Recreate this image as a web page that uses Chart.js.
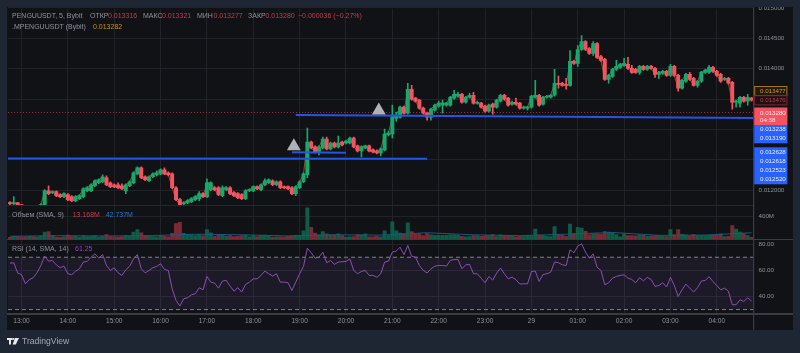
<!DOCTYPE html>
<html><head><meta charset="utf-8">
<style>html,body{margin:0;padding:0;background:#1e2633;overflow:hidden}canvas{display:block}</style>
<script src="https://cdn.jsdelivr.net/npm/chart.js@4"></script>
</head><body>
<canvas id="c" width="800" height="353"></canvas>
<script>
// prices are in millionths of USDT
const opens=[11798,11782,11798,11765,11716,11667,11700,11651,11683,11765,
11994,11962,11978,11929,11896,11929,11896,11831,11864,11896,
11994,11994,12076,12125,12141,12207,12125,12092,12092,12076,
11994,12076,12125,12272,12370,12223,12158,12223,12256,12272,
12338,12289,12272,12043,11847,11782,11798,11814,11847,11864,
11945,11896,12011,12043,12043,11913,12011,12043,11962,11945,
11929,11864,11994,11994,12060,12011,12092,12125,12158,12092,
12141,12060,12060,12043,11945,12043,12141,12256,12795,12714,
12632,12697,12844,12681,12779,12714,12795,12779,12779,12861,
12730,12648,12697,12730,12665,12648,12615,12665,12910,12926,
13188,13204,13368,13270,13662,13515,13482,13351,13270,13204,
13319,13384,13400,13400,13400,13515,13547,13580,13449,13531,
13564,13433,13433,13384,13302,13417,13368,13466,13564,13515,
13417,13449,13433,13351,13351,13368,13531,13564,13417,13531,
13531,13564,13760,13760,13744,13727,14120,14087,14316,14447,
14332,14250,14414,14201,14152,13825,13874,13989,14022,14054,
14071,14005,13989,13940,14038,13989,14038,14005,13907,13923,
13956,13891,14038,13891,13678,13793,13907,13842,13727,13793,
13940,13940,14022,13956,13907,13825,13842,13776,13449,13433,
13531,13466,13515];
const closes=[11782,11798,11765,11716,11667,11700,11651,11683,11765,11994,
11945,11978,11913,11896,11945,11847,11831,11896,11913,12027,
12043,12092,12158,12174,12223,12092,12060,12060,12043,12027,
12092,12141,12289,12370,12207,12174,12223,12272,12289,12338,
12272,12256,12043,11847,11765,11798,11831,11864,11896,11945,
11896,12125,12125,12011,11929,12043,12043,11945,11913,11880,
11864,11994,12011,12060,12027,12092,12158,12174,12092,12141,
12043,12043,12027,11945,12060,12141,12272,12795,12697,12632,
12714,12844,12681,12779,12714,12779,12746,12812,12861,12714,
12648,12714,12730,12648,12632,12615,12681,12926,12942,13204,
13237,13368,13270,13662,13498,13466,13351,13270,13204,13335,
13400,13433,13433,13433,13531,13580,13580,13449,13531,13564,
13433,13449,13368,13302,13400,13368,13482,13564,13498,13400,
13449,13417,13351,13368,13368,13547,13564,13400,13531,13547,
13564,13760,13744,13727,13727,14120,14087,14316,14447,14316,
14250,14414,14185,14136,13825,13891,13989,14038,14071,14087,
14005,13940,13940,14038,13989,14038,14005,13907,13940,13956,
13891,14038,13891,13678,13809,13907,13825,13727,13793,13940,
13972,14022,13956,13891,13793,13842,13760,13449,13466,13531,
13466,13531,13482];
const highs=[11814,11896,11798,11765,11733,11716,11716,11700,11782,12011,
12076,11994,11994,11945,11962,11945,11913,11913,11929,12043,
12060,12109,12174,12190,12256,12239,12141,12109,12125,12109,
12109,12158,12305,12387,12387,12239,12239,12289,12321,12354,
12370,12305,12289,12060,11864,11814,11847,11880,11913,11978,
11962,12190,12141,12060,12060,12076,12060,12060,11978,11962,
11945,12011,12027,12076,12076,12109,12190,12190,12174,12158,
12158,12076,12076,12060,12076,12158,12289,13024,12812,12730,
12730,12877,12877,12795,12795,12893,12812,12828,12877,12877,
12746,12730,12746,12746,12681,12665,12697,13008,12975,13400,
13286,13384,13384,13760,13727,13531,13498,13368,13286,13351,
13417,13466,13482,13449,13547,13646,13613,13597,13547,13597,
13613,13466,13449,13400,13417,13433,13498,13580,13580,13531,
13466,13515,13449,13384,13384,13564,13809,13580,13547,13564,
13580,13989,13880,13776,13842,14299,14136,14381,14545,14463,
14349,14447,14430,14218,14169,13907,14005,14136,14087,14169,
14185,14054,14005,14054,14054,14054,14054,14022,13956,13972,
13972,14071,14054,13907,13825,13923,13940,13858,13809,13956,
13989,14054,14038,13972,13923,13858,13858,13793,13482,13547,
13547,13580,13531];
const lows=[11765,11765,11749,11700,11651,11651,11635,11635,11667,11749,
11929,11945,11896,11880,11880,11831,11814,11814,11847,11880,
11978,11978,12060,12109,12125,12076,12043,12043,12027,12011,
11945,12060,12109,12256,12190,12158,12141,12207,12239,12256,
12256,12239,12027,11831,11749,11765,11782,11798,11831,11831,
11880,11880,11994,11994,11913,11896,11994,11929,11896,11864,
11847,11847,11978,11978,12011,11994,12076,12109,12076,12076,
12027,12027,12011,11929,11913,12027,12125,12207,12681,12615,
12583,12681,12665,12665,12697,12697,12730,12763,12763,12697,
12632,12550,12681,12632,12615,12599,12566,12648,12893,12861,
13139,13188,13253,13253,13482,13449,13335,13253,13155,13155,
13302,13368,13270,13384,13384,13498,13531,13433,13433,13515,
13417,13417,13351,13286,13286,13253,13351,13449,13482,13384,
13400,13400,13335,13335,13319,13351,13515,13384,13400,13515,
13515,13547,13678,13711,13662,13711,14071,14038,14299,14299,
14234,14218,14169,14120,13809,13760,13858,13972,14005,14038,
13989,13923,13923,13907,13972,13972,13989,13858,13842,13907,
13874,13874,13874,13629,13662,13776,13809,13711,13695,13776,
13923,13923,13940,13874,13776,13809,13744,13335,13368,13368,
13449,13400,13466];
// volume, in millions
const volumes=[40,60,55,45,50,60,55,45,60,130,
140,70,45,40,50,80,55,60,45,70,
55,60,70,45,60,90,55,50,45,55,
70,60,130,175,120,70,60,55,50,70,
60,50,110,280,300,110,90,80,70,90,
65,175,120,60,90,90,60,70,55,60,
70,80,50,70,55,70,80,60,45,50,
50,45,60,65,75,70,155,550,215,115,
85,140,100,85,85,100,70,45,50,55,
90,80,100,50,50,60,50,155,70,310,
155,115,100,290,140,95,100,70,105,85,
75,75,75,75,85,85,75,60,50,55,
70,70,60,70,70,90,55,85,70,70,
60,50,60,55,70,60,185,80,70,60,
55,225,80,75,60,270,100,215,200,145,
85,100,100,95,140,130,120,90,50,100,
70,70,65,85,75,60,65,65,70,60,
55,175,85,175,95,85,65,90,70,70,
70,75,75,75,100,55,60,245,185,130,
100,70,40];
const rsi=[65.5,65.8,57.9,56.8,49.7,52.8,54.3,58.1,63.7,70.8,
67,67.5,64.2,62,63.2,57.4,56.6,59.4,61.2,66.3,
66.8,70,72.6,69.3,72.1,63.7,59.9,61.9,58.1,56.1,
60.4,63.2,68.8,72.1,61.2,58.1,59.9,61.9,63,65,
60.7,59.9,45.9,37,32.7,38.3,39,41.3,42.1,46.7,
45.1,55.3,51,50.2,46.4,51.8,52.3,47.9,44.1,46.7,
43.4,49.2,51,53.5,53.5,56.1,59.4,57.4,55.6,57.4,
51,51,50.5,44.6,51,57.4,63,76.9,73.4,69.3,
70,73.9,65.8,67.5,64.5,66.3,66.5,66.8,68.8,59.9,
57.4,59.1,59.9,56.1,56.1,54.6,57.4,66.3,67,73.9,
74.7,77.7,71.9,79,70.8,70,63.7,59.9,57.9,61.2,
63.2,63.7,63.7,63.2,67.5,68.3,68.3,61.2,64.2,64.5,
57.4,57.4,54,50.5,55.3,52.5,57.9,61.7,57.4,53.5,
54.8,52.8,49.5,49.7,49.7,59.1,59.4,51.5,56.8,57.4,
58.6,66.3,65.8,64.2,63.7,75.7,73.4,78.5,80.3,73.9,
69.3,72.6,62.4,59.9,49,50.5,54,55.3,56.1,56.6,
54,53,50.5,54.3,52,54.6,53,47.7,48.4,50.5,
47.2,54.6,48.4,40,45.1,49.5,46.4,43.4,46.7,51.8,
52.3,55.1,51.5,48.4,45.1,46.4,44.1,33.7,33.7,37.5,
36.2,39,36.5];
const smaIndex=[0,12,24,36,48,60,72,84,96,108,120,132,144,156,168,180,192];
const smaValues=[60,70,65,70,95,85,65,85,80,120,85,70,95,125,75,80,120];
const timeIndex=[3,15,27,39,51,63,75,87,99,111,123,135,147,159,171,183];
const timeLabels=["13:00","14:00","15:00","16:00","17:00","18:00","19:00","20:00","21:00","22:00","23:00","29","01:00","02:00","03:00","04:00"];
const priceTicks=[15000,14500,14000,13500,13000,12500,12000];
const volumeTicks=[400];
const rsiTicks=[80,60,40];
const lastPrice=13280;
const trendUpper=[[74,13238],[192.6,13190]];
const trendLower=[[-0.5,12523],[108,12520]];
const trendShort=[[73,12628],[87,12618]];
const triangles=[[73.5,12725],[95.5,13314]];

const GREEN='#17a86d',RED='#f7525f',VGREEN='#0e5c46',VRED='#7a2a35';
const idx=opens.map((_,i)=>i);
const up=idx.map(i=>closes[i]>=opens[i]);
const candleColor=up.map(u=>u?GREEN:RED);
const volColor=up.map(u=>u?VGREEN:VRED);
const pts=a=>a.map(p=>({x:p[0],y:p[1]}));
const SANS='"Liberation Sans",Arial,sans-serif';

function yAxis(min,max,weight,vals,fmt){return {
  type:'linear',position:'right',stack:'panes',stackWeight:weight,min,max,
  border:{display:false},grid:{color:'#212328',drawTicks:false,lineWidth:1},
  afterBuildTicks:s=>{s.ticks=vals.map(v=>({value:v}));},
  afterFit:s=>{s.width=39.5;},
  ticks:{autoSkip:false,color:'#8f929a',font:{family:SANS,size:6.2},padding:5,callback:fmt}
};}

const bg={id:'bg',
 beforeDraw(ch){const c=ch.ctx;
  c.fillStyle='#1e2633';c.fillRect(0,0,800,353);
  c.fillStyle='#111216';c.fillRect(7,7,786,323);},
 beforeDatasetsDraw(ch){const c=ch.ctx,s=ch.scales.rsi,a=ch.chartArea;
  const t=s.getPixelForValue(70),b=s.getPixelForValue(30);
  c.save();c.fillStyle='rgba(126,87,194,0.11)';c.fillRect(a.left,t,a.right-a.left,b-t);
  c.strokeStyle='#7f8188';c.lineWidth=1;c.setLineDash([4,3]);
  [t,b].forEach(y=>{c.beginPath();c.moveTo(a.left,y);c.lineTo(a.right,y);c.stroke();});
  c.restore();},
 afterDraw(ch){const c=ch.ctx;
  c.save();
  c.fillStyle='#1e2633';c.fillRect(0,0,800,7);
  // pane separators
  c.fillStyle='#25272d';c.fillRect(7,205,746.5,1);
  c.fillStyle='#3a3c42';c.fillRect(7,239,786,1);
  c.fillRect(7,313,786,2);
  c.fillRect(753,7,1.2,323);
  // legends
  c.textBaseline='middle';c.textAlign='left';
  const T=(s,x,y,col,sz)=>{c.font=(sz||7)+'px '+SANS;c.fillStyle=col;c.fillText(s,x,y);};
  const G='#8f929a',R='#c63c48';
  T('PENGUUSDT, 5, Bybit',12,16.5,G);
  T('ОТКР',90,16.5,G);T('0.013316',108,16.5,R);
  T('МАКС',143,16.5,G);T('0.013321',162,16.5,R);
  T('МИН',197,16.5,G);T('0.013277',213.5,16.5,R);
  T('ЗАКР',248,16.5,G);T('0.013280',265.5,16.5,R);T('−0.000036 (−0.27%)',298,16.5,R);
  T('.MPENGUUSDT (Bybit)',12,27,G);T('0.013282',93,27,'#c8901c');
  T('Объем (SMA, 9)',12,215,G);T('13.168M',72.7,215,R);T('42.737M',105.7,215,'#2a78c4');
  T('RSI (14, SMA, 14)',12,249,G);T('61.25',75,249,'#9047b5');
  // price tags
  const X=754.2,W=33.2,Tx=760;
  c.fillStyle='#221a0e';c.fillRect(X,86.5,W,9.2);c.strokeStyle='#a8741a';c.lineWidth=1;c.strokeRect(X+.5,86.5,W-1,9.2);
  T('0.013477',Tx,91.3,'#d39a25',6.2);
  c.fillStyle='#1c1114';c.fillRect(X,95.7,W,9.2);c.strokeStyle='#80262f';c.strokeRect(X+.5,95.7,W-1,9.2);
  T('0.013476',Tx,100.3,'#c83c48',6.2);
  c.fillStyle=RED;c.fillRect(X,107.5,W,17.5);
  T('0.013280',Tx,112.8,'#ffe8ea',6.2);T('04:38',Tx,120,'#ffe8ea',6.2);
  c.fillStyle='#2962ff';c.fillRect(X,125,W,18.3);c.fillRect(X,147.3,W,37);
  [['0.013238',129.3],['0.013190',138.3],['0.012628',152.3],['0.012618',161.3],['0.012523',170.3],['0.012520',179.7]]
   .forEach(a=>T(a[0],Tx,a[1],'#e6ecff',6.2));
  // footer
  T('TradingView',22,341.5,'#a4a8b0',8.6);
  c.fillStyle='#e8e8e8';
  c.fillRect(7,338,5.5,2);c.fillRect(9,338,2,6.5);
  c.beginPath();c.arc(13.4,339,1.1,0,7);c.fill();
  c.beginPath();c.moveTo(15,338);c.lineTo(19,338);c.lineTo(15.8,344.5);c.lineTo(12.6,344.5);c.fill();
  c.restore();}
};

new Chart(document.getElementById('c'),{
 type:'bar',
 plugins:[bg],
 data:{datasets:[
  {type:'line',label:'Mark price',yAxisID:'price',order:6,data:idx.map(i=>({x:i,y:closes[i]})),borderColor:'#7c5c1e',borderWidth:1,pointRadius:0,tension:0},
  {type:'line',label:'Last price',yAxisID:'price',order:7,data:[{x:-0.5,y:lastPrice},{x:192.5,y:lastPrice}],borderColor:'#9a2f3a',borderWidth:1,borderDash:[1,2],pointRadius:0},
  {label:'Wicks',yAxisID:'price',order:4,grouped:false,data:idx.map(i=>({x:i,y:[lows[i],highs[i]]})),backgroundColor:candleColor,barThickness:1},
  {label:'Bodies',yAxisID:'price',order:3,grouped:false,data:idx.map(i=>({x:i,y:[opens[i],closes[i]]})),backgroundColor:candleColor,barThickness:3.3},
  {type:'line',label:'Trend A',yAxisID:'price',order:2,data:pts(trendUpper),borderColor:'#2157e8',borderWidth:2,pointRadius:0},
  {type:'line',label:'Trend B',yAxisID:'price',order:2,data:pts(trendLower),borderColor:'#2157e8',borderWidth:2,pointRadius:0},
  {type:'line',label:'Trend C',yAxisID:'price',order:2,data:pts(trendShort),borderColor:'#2157e8',borderWidth:2,pointRadius:0},
  {type:'scatter',label:'Markers',yAxisID:'price',order:1,data:pts(triangles),pointStyle:'triangle',pointRadius:8,backgroundColor:'#aeb2b8',borderWidth:0},
  {label:'Volume',yAxisID:'vol',order:5,grouped:false,data:idx.map(i=>({x:i,y:volumes[i]})),backgroundColor:volColor,barThickness:3.3},
  {type:'line',label:'Volume SMA',yAxisID:'vol',order:2,data:smaIndex.map((x,k)=>({x,y:smaValues[k]})),borderColor:'#1b587e',borderWidth:1,pointRadius:0},
  {type:'line',label:'RSI',yAxisID:'rsi',order:1,data:idx.map(i=>({x:i,y:rsi[i]})),borderColor:'#8b4db3',borderWidth:1,pointRadius:0,tension:0}
 ]},
 options:{
  responsive:false,animation:false,devicePixelRatio:1,
  layout:{padding:{left:7,top:7,right:7,bottom:23}},
  plugins:{legend:{display:false},tooltip:{enabled:false}},
  events:[],
  scales:{
   x:{type:'linear',min:-0.5,max:192.5,offset:false,
      border:{display:false},
      grid:{offset:false,color:'#212328',drawTicks:false},
      afterBuildTicks:s=>{s.ticks=timeIndex.map(v=>({value:v}));},
      afterFit:s=>{s.height=16.5;},
      ticks:{autoSkip:false,maxRotation:0,color:'#8f929a',padding:4,font:{family:SANS,size:6.6},
        callback:v=>timeLabels[timeIndex.indexOf(v)]}},
   price:yAxis(11741,14986,198.5,priceTicks,v=>(v/1e6).toFixed(6)),
   vol:yAxis(0,580,33.8,volumeTicks,v=>v+'M'),
   rsi:yAxis(27,83.4,74.2,rsiTicks,v=>v.toFixed(2))
  }
 }
});
</script>
</body></html>
